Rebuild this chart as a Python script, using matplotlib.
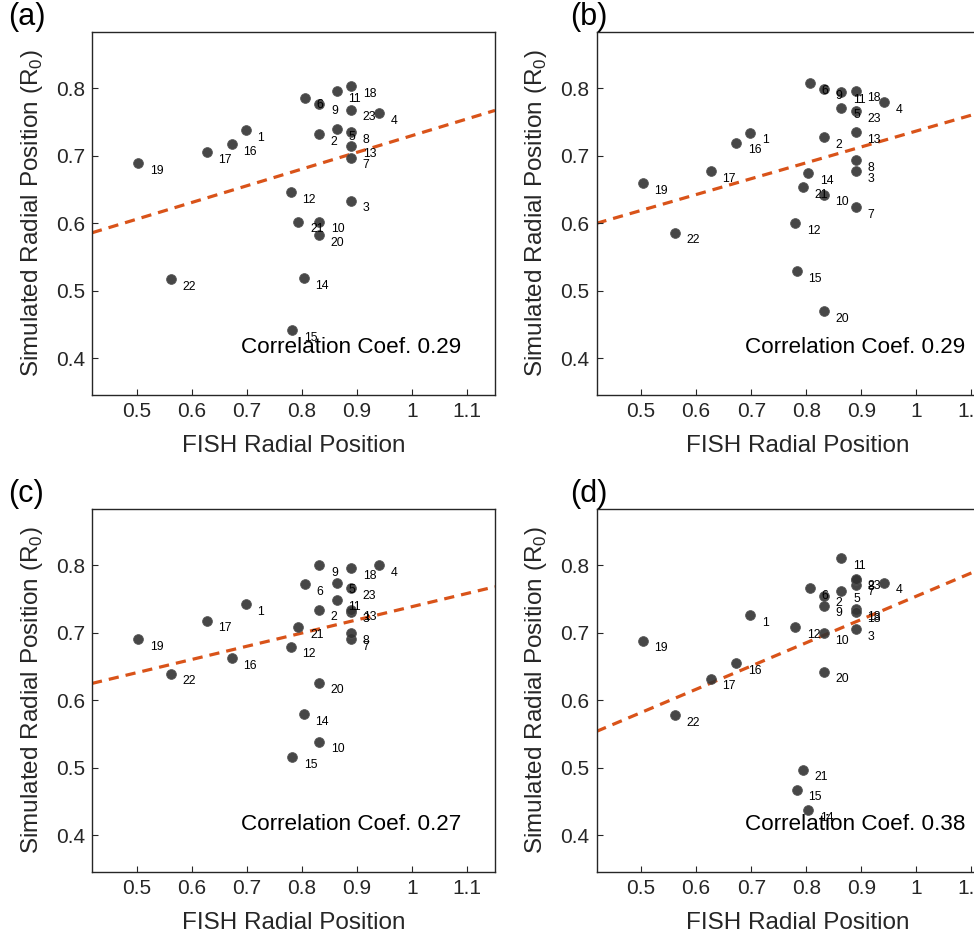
import numpy as np
import matplotlib
matplotlib.use("Agg")
import matplotlib.pyplot as plt

plt.rcParams['font.family'] = ['Liberation Sans', 'DejaVu Sans']
plt.rcParams['mathtext.fontset'] = 'custom'
plt.rcParams['mathtext.rm'] = 'Liberation Sans'

# chromosome labels (23 = X)
chrom = [str(i) for i in range(1, 24)]

# FISH radial position, shared by all panels
fish = [0.698, 0.832, 0.890, 0.941, 0.864, 0.806, 0.890, 0.890, 0.832, 0.832,
        0.864, 0.780, 0.890, 0.804, 0.783, 0.673, 0.627, 0.890, 0.503, 0.832,
        0.794, 0.562, 0.890]

# simulated radial position per panel
sim_a = [0.738, 0.732, 0.633, 0.763, 0.739, 0.786, 0.697, 0.735, 0.777, 0.602,
         0.795, 0.646, 0.714, 0.519, 0.442, 0.717, 0.705, 0.803, 0.689, 0.582,
         0.602, 0.517, 0.768]
sim_b = [0.734, 0.727, 0.677, 0.779, 0.771, 0.807, 0.624, 0.693, 0.799, 0.642,
         0.794, 0.600, 0.735, 0.674, 0.529, 0.719, 0.677, 0.796, 0.659, 0.470,
         0.653, 0.586, 0.766]
sim_c = [0.742, 0.734, 0.731, 0.800, 0.774, 0.772, 0.690, 0.699, 0.800, 0.539,
         0.749, 0.679, 0.734, 0.579, 0.516, 0.662, 0.718, 0.795, 0.690, 0.626,
         0.708, 0.639, 0.766]
sim_d = [0.726, 0.755, 0.705, 0.774, 0.761, 0.766, 0.771, 0.778, 0.740, 0.699,
         0.810, 0.708, 0.735, 0.437, 0.468, 0.655, 0.632, 0.731, 0.688, 0.642,
         0.497, 0.578, 0.780]

# fitted line values at the x limits
fit_x = [0.419, 1.151]
fit_a = [0.586, 0.767]
fit_b = [0.600, 0.772]
fit_c = [0.625, 0.768]
fit_d = [0.554, 0.806]

corr = ['0.29', '0.29', '0.27', '0.38']
letters = ['(a)', '(b)', '(c)', '(d)']

W, H = 974, 939
fig = plt.figure(figsize=(W / 100, H / 100), dpi=100)

lefts = [92, 596.5, 92, 596.5]
tops = [32, 32, 509, 509]
aw, ah = 403, 363
letter_x = [8, 570, 8, 570]

sims = [sim_a, sim_b, sim_c, sim_d]
fits = [fit_a, fit_b, fit_c, fit_d]
dark = '#262626'

for k in range(4):
    ax = fig.add_axes([lefts[k] / W, 1 - (tops[k] + ah) / H, aw / W, ah / H])
    ax.plot(fit_x, fits[k], color='#D95319', lw=2.3, linestyle=(0, (3.2, 2.2)),
            zorder=1)
    ax.scatter(fish, sims[k], s=50, color='#333333', alpha=0.9,
               edgecolors='#555555', linewidths=0.6, zorder=2)
    for name, xv, yv in zip(chrom, fish, sims[k]):
        ax.annotate(name, (xv, yv), xytext=(8.3, -5.4), textcoords='offset points',
                    ha='left', va='center', fontsize=8.8, color='black', zorder=3)
    ax.set_xlim(0.419, 1.151)
    ax.set_ylim(0.346, 0.883)
    ax.set_xticks([0.5, 0.6, 0.7, 0.8, 0.9, 1.0, 1.1])
    ax.set_xticklabels(['0.5', '0.6', '0.7', '0.8', '0.9', '1', '1.1'])
    ax.set_yticks([0.4, 0.5, 0.6, 0.7, 0.8])
    ax.tick_params(direction='in', length=4, width=0.8, colors=dark,
                   labelsize=15, pad=5)
    for sp in ax.spines.values():
        sp.set_color(dark)
        sp.set_linewidth(1.0)
    ax.set_xlabel('FISH Radial Position', fontsize=17.5, color=dark, labelpad=10)
    ax.set_ylabel(r'Simulated Radial Position (R$_0$)', fontsize=17.5,
                  color=dark, labelpad=8)
    ax.text(0.689, 0.417, 'Correlation Coef. ' + corr[k], ha='left',
            va='center', fontsize=16.2, color='black')
    fig.text(letter_x[k] / W, 1 - (tops[k] - 30) / H, letters[k],
             ha='left', va='top', fontsize=22, color='black')

fig.savefig('out.png', dpi=100)
